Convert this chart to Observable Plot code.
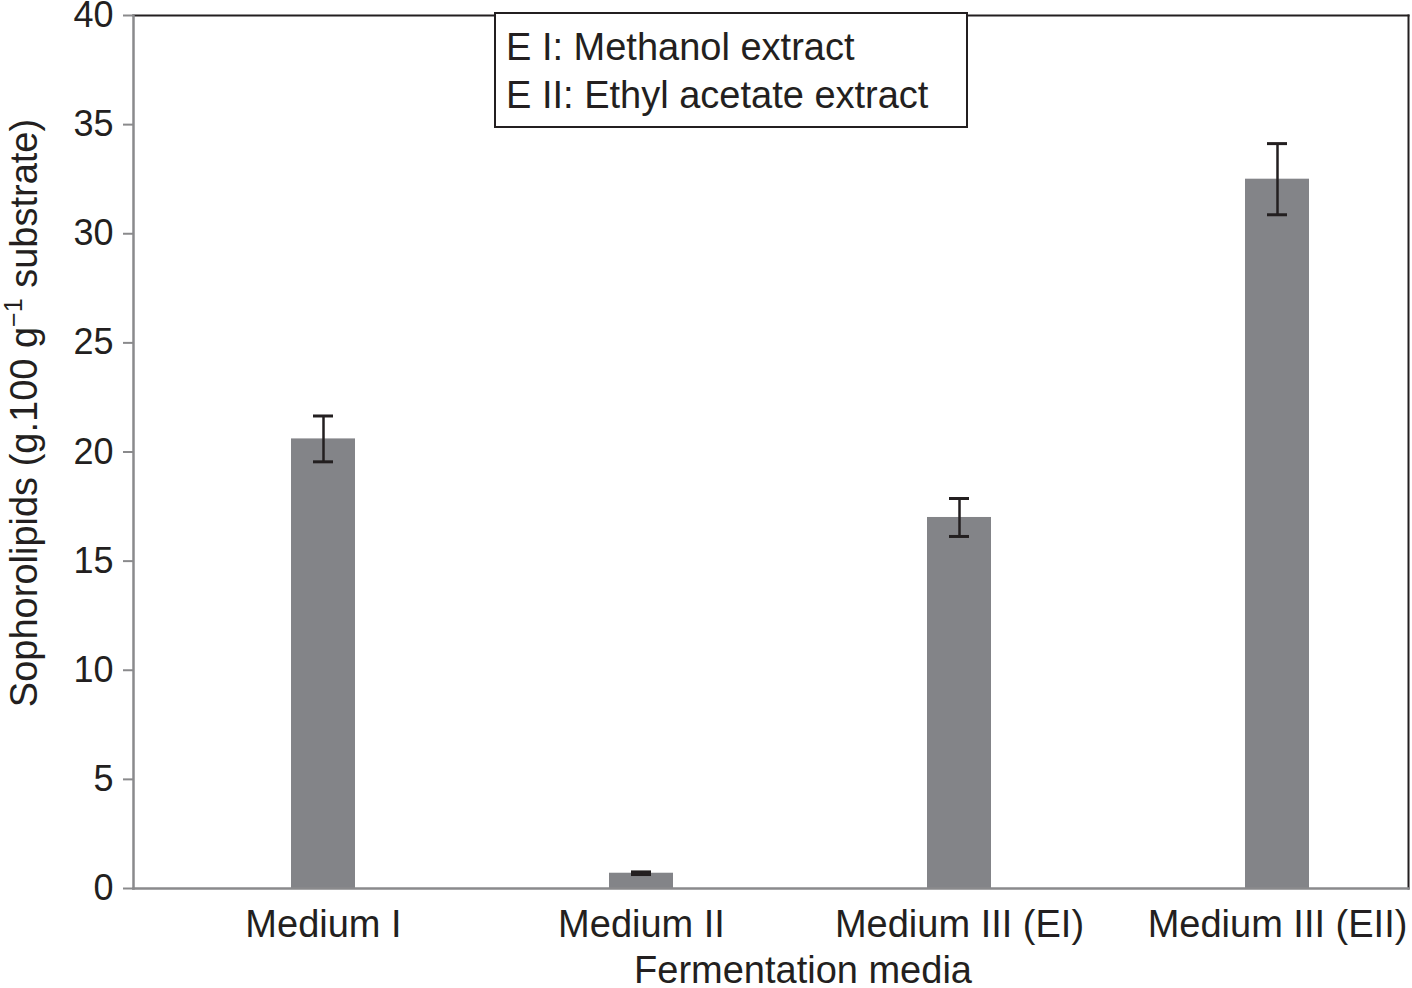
<!DOCTYPE html>
<html>
<head>
<meta charset="utf-8">
<script src="https://cdn.jsdelivr.net/npm/d3@7"></script>
<script src="https://cdn.jsdelivr.net/npm/@observablehq/plot@0.6"></script>
<style>
  html, body { margin: 0; padding: 0; background: #fff; }
  svg { overflow: visible; }
</style>
</head>
<body>
<div id="chart"></div>
<script>
const categories = ["Medium I", "Medium II", "Medium III (EI)", "Medium III (EII)"];
const means = [20.6, 0.7, 17.0, 32.5];
const errors = [1.05, 0.06, 0.87, 1.63];
const yTicks = [0, 5, 10, 15, 20, 25, 30, 35, 40];
const legendLines = ["E I: Methanol extract", "E II: Ethyl acetate extract"];
const xTitle = "Fermentation media";

const data = categories.map((c, i) => ({cat: c, mean: means[i], lo: means[i] - errors[i], hi: means[i] + errors[i]}));

const font = "'Liberation Sans', Arial, Helvetica, sans-serif";
const dark = "#231f20";
const grey = "#8a8a8c";

const chart = Plot.plot({
  width: 1412,
  height: 988,
  marginLeft: 133,
  marginRight: 4,
  marginTop: 15,
  marginBottom: 100,
  style: {fontFamily: font, background: "white", color: dark, overflow: "visible"},
  x: {domain: categories, range: [162, 1437], paddingInner: 0.8, paddingOuter: 0.4, align: 0.5},
  y: {domain: [0, 40]},
  marks: [
    Plot.frame({anchor: "top", stroke: dark, strokeWidth: 2}),
    Plot.frame({anchor: "right", stroke: dark, strokeWidth: 2}),
    Plot.barY(data, {x: "cat", y: "mean", fill: "#838488"}),
    Plot.ruleX(data, {x: "cat", y1: "lo", y2: "hi", stroke: dark, strokeWidth: 2.5}),
    Plot.tickY(data, {x: "cat", y: "lo", stroke: dark, strokeWidth: 3, insetLeft: 22, insetRight: 22}),
    Plot.tickY(data, {x: "cat", y: "hi", stroke: dark, strokeWidth: 3, insetLeft: 22, insetRight: 22}),
    Plot.frame({anchor: "left", stroke: grey, strokeWidth: 2.5}),
    Plot.frame({anchor: "bottom", stroke: grey, strokeWidth: 2.5}),
    Plot.axisY({ticks: yTicks, tickSize: 10, tickPadding: 10, fontSize: 36, stroke: grey, strokeWidth: 2, fill: dark, label: null}),
    Plot.axisX({tickSize: 0, tickPadding: 22, fontSize: 38, fill: dark, label: null}),
    Plot.text([xTitle], {frameAnchor: "bottom", dx: 32, dy: 94, fontSize: 38, fill: dark, lineAnchor: "bottom"})
  ]
});

document.getElementById("chart").appendChild(chart);

const svg = d3.select(chart);

// Y axis title with superscript
const yt = svg.append("text")
  .attr("transform", "translate(37,413) rotate(-90)")
  .attr("text-anchor", "middle")
  .attr("font-family", font)
  .attr("font-size", 38)
  .attr("fill", dark);
yt.append("tspan").text("Sophorolipids (g.100 g");
yt.append("tspan").attr("font-size", 25).attr("dy", -15).text("\u22121");
yt.append("tspan").attr("dy", 15).text(" substrate)");

// Legend box
const lg = svg.append("g");
lg.append("rect")
  .attr("x", 495).attr("y", 13).attr("width", 472).attr("height", 114)
  .attr("fill", "white").attr("stroke", dark).attr("stroke-width", 2);
legendLines.forEach((t, i) => {
  lg.append("text")
    .attr("x", 506).attr("y", 60 + i * 48)
    .attr("text-anchor", "start")
    .attr("font-family", font).attr("font-size", 38).attr("fill", dark)
    .text(t);
});
</script>
</body>
</html>
